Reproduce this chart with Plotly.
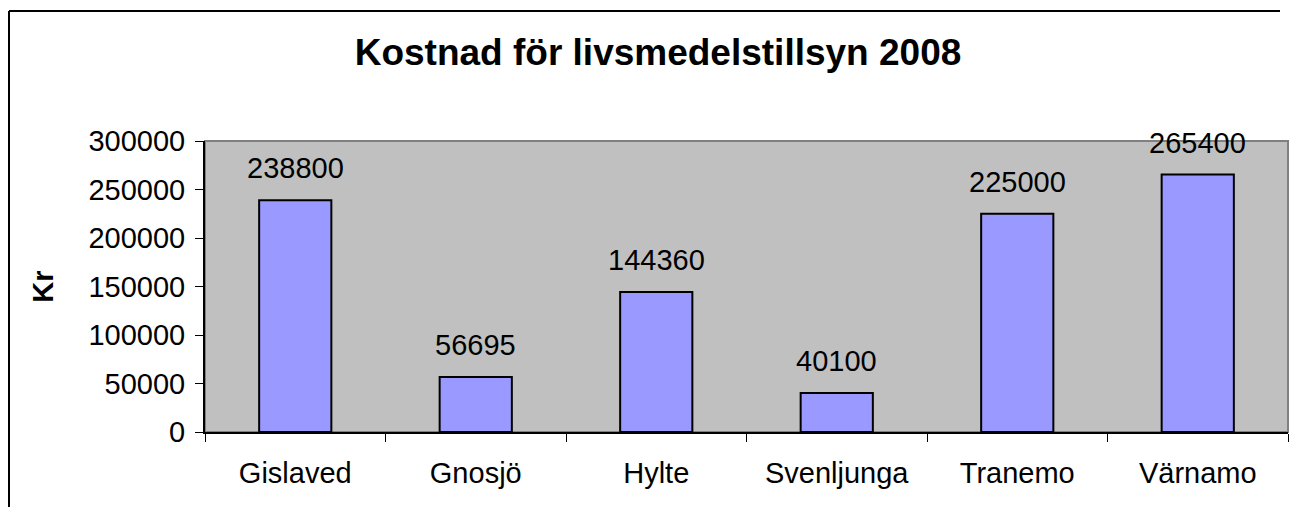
import plotly.graph_objects as go

categories = ["Gislaved", "Gnosjö", "Hylte", "Svenljunga", "Tranemo", "Värnamo"]
values = [238800, 56695, 144360, 40100, 225000, 265400]
y_ticks = [0, 50000, 100000, 150000, 200000, 250000, 300000]
title_text = "Kostnad för livsmedelstillsyn 2008"
y_title = "Kr"

# page offset from default body margin (8px each side)
OFF = 8
PAGE_W, PAGE_H = 1297, 515
W, H = PAGE_W - 2 * OFF, PAGE_H - 2 * OFF
# plot area in page pixels: x 205..1288, y 141..432
L = 205 - OFF
T = 141 - OFF
R = W - (1288 - OFF)
B = H - (432 - OFF)
pw, ph = W - L - R, H - T - B

def px_x(p):
    return (p - OFF - L) / pw

def px_y(p):
    return (H - B - (p - OFF)) / ph

FONT = "Liberation Sans, Arial, sans-serif"

fig = go.Figure()
fig.add_trace(go.Bar(
    x=categories, y=values,
    marker=dict(color="#9999FF", line=dict(color="black", width=2)),
    width=0.4,
    hoverinfo="x+y",
))

for c, v in zip(categories, values):
    fig.add_annotation(x=c, y=v, text=str(v), showarrow=False,
                       yanchor="bottom", yshift=14,
                       font=dict(family=FONT, size=29, color="black"))

# outer chart border (top and left edges; others lie outside the page)
fig.add_shape(type="line", xref="paper", yref="paper",
              x0=px_x(9), x1=px_x(1280), y0=px_y(11), y1=px_y(11),
              line=dict(color="black", width=2), layer="below")
fig.add_shape(type="line", xref="paper", yref="paper",
              x0=px_x(9), x1=px_x(9), y0=px_y(11), y1=px_y(OFF + H),
              line=dict(color="black", width=2), layer="below")
# plot area border (gray)
fig.add_shape(type="rect", xref="paper", yref="paper",
              x0=0, x1=1, y0=0, y1=1,
              line=dict(color="#808080", width=2), fillcolor="rgba(0,0,0,0)", layer="below")

fig.update_layout(
    width=W, height=H,
    margin=dict(l=L, r=R, t=T, b=B, autoexpand=False),
    paper_bgcolor="white", plot_bgcolor="#C0C0C0",
    bargap=0.6,
    showlegend=False,
    font=dict(family=FONT, size=29, color="black"),
    title=dict(text="<b>" + title_text + "</b>", x=(658 - OFF) / W, xanchor="center",
               y=1 - (52 - OFF) / H, yanchor="middle",
               font=dict(family=FONT, size=37, color="black")),
)
fig.update_xaxes(
    type="category", tickson="boundaries", ticks="outside", ticklen=8,
    tickcolor="black", tickwidth=1, showline=True, linecolor="black", linewidth=2,
    showgrid=False, ticklabelstandoff=14,
    tickfont=dict(family=FONT, size=29, color="black"),
)
fig.update_yaxes(
    range=[0, 300000], tickvals=y_ticks, ticktext=[str(t) for t in y_ticks],
    ticks="outside", ticklen=8, tickcolor="black", tickwidth=1,
    showline=True, linecolor="black", linewidth=2, showgrid=False, zeroline=False,
    ticklabelstandoff=4,
    tickfont=dict(family=FONT, size=29, color="black"),
    title=dict(text="<b>" + y_title + "</b>", standoff=26,
               font=dict(family=FONT, size=29, color="black")),
)

fig.write_html("out.html")
